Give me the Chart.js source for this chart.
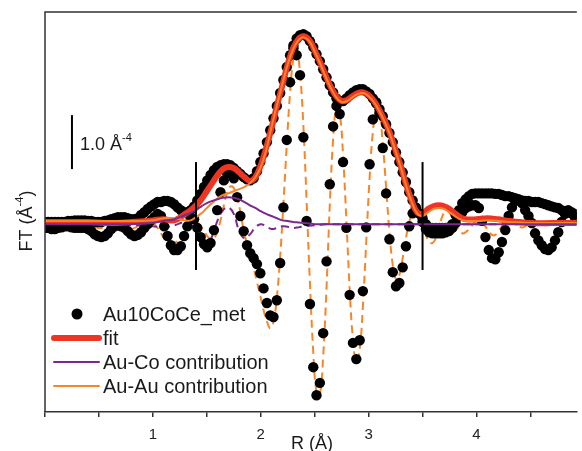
<!DOCTYPE html>
<html lang="en">
<head>
  <meta charset="UTF-8">
  <title>FT magnitude and imaginary part - Au10CoCe_met</title>
  <script src="https://cdn.jsdelivr.net/npm/chart.js"></script>
  <style>
    html, body { margin: 0; padding: 0; background: #fff; }
    #chart { display: block; }
  </style>
</head>
<body>
  <canvas id="chart" width="582" height="451"></canvas>

  <script>
    // R grid of the measured transform (Å)
    const rGrid = [
      0, 0.031, 0.061, 0.092, 0.123, 0.154, 0.184, 0.215, 0.246, 0.276,
      0.307, 0.338, 0.368, 0.399, 0.430, 0.461, 0.491, 0.522, 0.553, 0.583,
      0.614, 0.645, 0.675, 0.706, 0.737, 0.768, 0.798, 0.829, 0.860, 0.890,
      0.921, 0.952, 0.982, 1.013, 1.044, 1.075, 1.105, 1.136, 1.167, 1.197,
      1.228, 1.259, 1.289, 1.320, 1.351, 1.382, 1.412, 1.443, 1.474, 1.504,
      1.535, 1.566, 1.596, 1.627, 1.658, 1.689, 1.719, 1.750, 1.781, 1.811,
      1.842, 1.873, 1.903, 1.934, 1.965, 1.996, 2.026, 2.057, 2.088, 2.118,
      2.149, 2.180, 2.210, 2.241, 2.272, 2.303, 2.333, 2.364, 2.395, 2.425,
      2.456, 2.487, 2.517, 2.548, 2.579, 2.610, 2.640, 2.671, 2.702, 2.732,
      2.763, 2.794, 2.824, 2.855, 2.886, 2.917, 2.947, 2.978, 3.009, 3.039,
      3.070, 3.101, 3.131, 3.162, 3.193, 3.224, 3.254, 3.285, 3.316, 3.346,
      3.377, 3.408, 3.438, 3.469, 3.500, 3.531, 3.561, 3.592, 3.623, 3.653,
      3.684, 3.715, 3.745, 3.776, 3.807, 3.838, 3.868, 3.899, 3.930, 3.960,
      3.991, 4.022, 4.052, 4.083, 4.114, 4.144, 4.175, 4.206, 4.236, 4.267,
      4.298, 4.329, 4.359, 4.390, 4.421, 4.451, 4.482, 4.513, 4.543, 4.574,
      4.605, 4.636, 4.666, 4.697, 4.728, 4.758, 4.789, 4.820, 4.850, 4.881,
      4.912
    ];

    // Au10CoCe_met data, magnitude
    const dataMag = [
      0.04, 0.04, 0.04, 0.04, 0.04, 0.04, 0.04, 0.06, 0.06, 0.07,
      0.07, 0.07, 0.07, 0.06, 0.06, 0.04, 0.04, 0.04, 0.06, 0.07,
      0.09, 0.11, 0.13, 0.13, 0.13, 0.11, 0.09, 0.09, 0.11, 0.17,
      0.22, 0.28, 0.33, 0.37, 0.41, 0.41, 0.43, 0.43, 0.41, 0.37,
      0.31, 0.26, 0.22, 0.22, 0.26, 0.33, 0.44, 0.56, 0.69, 0.81,
      0.91, 1.00, 1.06, 1.09, 1.11, 1.11, 1.09, 1.04, 0.98, 0.93,
      0.87, 0.83, 0.81, 0.85, 0.98, 1.15, 1.31, 1.52, 1.74, 1.96,
      2.19, 2.43, 2.67, 2.91, 3.13, 3.31, 3.44, 3.50, 3.52, 3.48,
      3.39, 3.28, 3.15, 3.02, 2.87, 2.72, 2.57, 2.44, 2.33, 2.28,
      2.28, 2.33, 2.39, 2.44, 2.48, 2.50, 2.50, 2.46, 2.41, 2.33,
      2.24, 2.13, 2.00, 1.85, 1.69, 1.52, 1.33, 1.15, 0.96, 0.78,
      0.59, 0.44, 0.31, 0.20, 0.11, 0.00, -0.06, -0.07, -0.07, -0.07,
      -0.07, -0.07, -0.06, 0.00, 0.17, 0.26, 0.39, 0.46, 0.52, 0.56,
      0.57, 0.57, 0.57, 0.57, 0.57, 0.57, 0.56, 0.56, 0.54, 0.52,
      0.52, 0.50, 0.48, 0.46, 0.44, 0.43, 0.43, 0.41, 0.41, 0.41,
      0.39, 0.37, 0.35, 0.33, 0.31, 0.30, 0.26, 0.24, 0.22, 0.20,
      0.19
    ];

    // Au10CoCe_met data, imaginary part
    const dataIm = [
      -0.07, -0.07, -0.09, -0.09, -0.07, -0.06, -0.04, -0.04, -0.06, -0.07,
      -0.07, -0.07, -0.07, -0.09, -0.13, -0.19, -0.22, -0.24, -0.22, -0.17,
      -0.09, -0.04, -0.02, -0.04, -0.07, -0.13, -0.19, -0.22, -0.20, -0.15,
      -0.07, 0.00, 0.07, 0.13, 0.19, 0.15, -0.04, -0.22, -0.39, -0.48,
      -0.48, -0.41, -0.22, -0.04, 0.11, 0.09, -0.07, -0.24, -0.37, -0.43,
      -0.35, -0.11, 0.26, 0.59, 0.81, 0.94, 0.96, 0.85, 0.50, 0.15,
      -0.13, -0.39, -0.54, -0.63, -0.74, -0.91, -1.19, -1.46, -1.69, -1.72,
      -1.41, -0.72, 0.31, 1.56, 2.63, 3.26, 3.13, 2.76, 1.61, 0.06,
      -1.48, -2.65, -3.17, -2.94, -2.02, -0.69, 0.74, 1.81, 2.19, 2.04,
      1.15, -0.07, -1.31, -2.20, -2.50, -2.15, -1.24, -0.06, 1.11, 1.94,
      2.26, 2.06, 1.41, 0.57, -0.28, -0.89, -1.15, -1.09, -0.80, -0.41,
      -0.04, 0.20, 0.28, 0.20, 0.04, -0.09, -0.15, -0.17, -0.17, -0.17,
      -0.17, -0.15, -0.13, -0.07, 0.02, 0.15, 0.22, 0.30, 0.33, 0.35,
      0.35, 0.30, 0.06, -0.24, -0.48, -0.63, -0.65, -0.52, -0.33, -0.11,
      0.15, 0.31, 0.43, 0.44, 0.39, 0.26, 0.15, 0.02, -0.17, -0.30,
      -0.39, -0.46, -0.48, -0.43, -0.30, -0.15, 0.04, 0.19, 0.26, 0.22,
      0.13
    ];

    // Au-Au contribution, imaginary part (dashed), same R grid
    const auauIm = [
      -0.02, -0.02, -0.02, -0.02, 0, 0, 0, -0.02, -0.04, -0.04,
      -0.02, 0, 0.02, 0.02, 0, -0.04, -0.07, -0.07, -0.06, -0.02,
      0.02, 0.04, 0.04, 0, -0.04, -0.07, -0.09, -0.07, -0.04, 0.02,
      0.06, 0.07, 0.06, 0, -0.07, -0.17, -0.26, -0.31, -0.35, -0.35,
      -0.31, -0.24, -0.15, -0.06, 0.02, 0.06, 0.04, -0.04, -0.13, -0.22,
      -0.28, -0.26, -0.15, 0.07, 0.35, 0.59, 0.70, 0.67, 0.50, 0.22,
      -0.11, -0.37, -0.59, -0.81, -1.07, -1.33, -1.59, -1.80, -1.93, -1.81,
      -1.37, -0.61, 0.37, 1.46, 2.44, 3.07, 3.22, 2.81, 1.83, 0.44,
      -1.09, -2.37, -3.11, -3.15, -2.44, -1.17, 0.35, 1.57, 2.17, 2.06,
      1.28, 0.07, -1.19, -2.15, -2.56, -2.33, -1.52, -0.33, 0.85, 1.70,
      2.11, 2.04, 1.50, 0.69, -0.15, -0.76, -1.02, -0.94, -0.63, -0.26,
      0.04, 0.22, 0.24, 0.15, -0.02, -0.20, -0.33, -0.35, -0.26, -0.06,
      0.15, 0.24, 0.22, 0.13, 0, -0.11, -0.17, -0.15, -0.09, -0.02,
      0.04, 0.06, 0.04, -0.04, -0.13, -0.20, -0.20, -0.13, -0.04, 0.04,
      0.06, 0.04, 0, -0.04, -0.06, -0.04, 0, 0.02, 0.02, 0,
      -0.02, -0.02, -0.02, 0, 0, 0, 0, 0, 0, 0,
      0
    ];

    // R grid of the fitted curves (Å)
    const compR = [
      0, 0.2, 0.4, 0.6, 0.8, 1.0, 1.1, 1.2, 1.3,
      1.35, 1.4, 1.45, 1.5, 1.55, 1.6, 1.65, 1.7, 1.75, 1.8,
      1.85, 1.9, 1.95, 2.0, 2.05, 2.1, 2.15, 2.2, 2.25, 2.3,
      2.35, 2.4, 2.45, 2.5, 2.55, 2.6, 2.65, 2.7, 2.75, 2.8,
      2.85, 2.9, 2.95, 3.0, 3.05, 3.1, 3.15, 3.2, 3.25, 3.3,
      3.35, 3.4, 3.45, 3.5, 3.55, 3.6, 3.65, 3.7, 3.75, 3.8,
      3.85, 3.9,
      4.0, 4.1, 4.2, 4.3, 4.4, 4.5, 4.7, 4.93
    ];

    const fitMag = [
      0.04, 0.04, 0.04, 0.02, 0.04, 0.07, 0.09, 0.07, 0.19,
      0.26, 0.35, 0.46, 0.61, 0.76, 0.91, 1.02, 1.06, 1.04, 0.96,
      0.87, 0.80, 0.87, 1.09, 1.41, 1.78, 2.19, 2.57, 2.96, 3.26,
      3.43, 3.48, 3.41, 3.22, 3.00, 2.76, 2.54, 2.37, 2.28, 2.30,
      2.37, 2.43, 2.44, 2.39, 2.28, 2.11, 1.91, 1.67, 1.37, 1.06,
      0.72, 0.43, 0.22, 0.19, 0.28, 0.33, 0.35, 0.33, 0.28, 0.20,
      0.13, 0.09,
      0.09, 0.11, 0.09, 0.06, 0.04, 0.02, 0.02, 0.02
    ];

    const auauMag = [
      0.06, 0.06, 0.06, 0.06, 0.06, 0.07, 0.11, 0.11, 0.07,
      0.07, 0.13, 0.20, 0.30, 0.39, 0.48, 0.54, 0.57, 0.61, 0.65,
      0.69, 0.76, 0.87, 1.06, 1.37, 1.80, 2.20, 2.59, 2.96, 3.24,
      3.41, 3.46, 3.39, 3.20, 2.98, 2.74, 2.52, 2.35, 2.26, 2.28,
      2.35, 2.41, 2.43, 2.37, 2.26, 2.09, 1.89, 1.65, 1.35, 1.04,
      0.70, 0.41, 0.20, 0.15, 0.22, 0.28, 0.30, 0.28, 0.22, 0.15,
      0.09, 0.06,
      0.06, 0.07, 0.06, 0.04, 0.03, 0.02, 0.02, 0.02
    ];

    const aucoMag = [
      0, 0, 0, 0, 0, 0.02, 0.06, 0.09, 0.17,
      0.21, 0.26, 0.33, 0.39, 0.43, 0.46, 0.49, 0.50, 0.49, 0.46,
      0.41, 0.35, 0.30, 0.24, 0.19, 0.15, 0.11, 0.07, 0.06, 0.04,
      0.03, 0.02, 0.01, 0, 0, 0, 0, 0, 0, 0,
      0, 0, 0, 0, 0, 0, 0, 0, 0, 0,
      0, 0, 0, 0, 0, 0, 0, 0, 0, 0,
      0, 0,
      0, 0, 0, 0, 0, 0, 0, 0
    ];

    const aucoIm = [
      -0.02, -0.02, -0.02, -0.02, -0.02, -0.04, -0.06, -0.02, 0.04,
      0, -0.13, -0.30, -0.39, -0.22, 0.07, 0.26, 0.31, 0.19, -0.13,
      -0.26, -0.19, -0.06, 0, -0.04, -0.09, -0.07, -0.04, -0.05, -0.07,
      -0.06, -0.04, -0.03, -0.02, -0.01, 0, 0, 0, 0, 0,
      0, 0, 0, 0, 0, 0, 0, 0, 0, 0,
      0, 0, 0, 0, 0, 0, 0, 0, 0, 0,
      0, 0,
      0, 0, 0, 0, 0, 0, 0, 0
    ];

    // fitting window and scale bar
    const windowR = [1.4, 3.5];
    const windowSpan = [-0.85, 1.15];
    const scaleBarR = 0.25;
    const scaleBarSpan = [1.02, 2.02];

    const legendItems = ['Au10CoCe_met', 'fit', 'Au-Co contribution', 'Au-Au contribution'];

    const RED = '#ee3524';
    const ORANGE = '#f7862a';
    const PURPLE = '#7a2a8f';
    const FONT = '"Liberation Sans", Arial, Helvetica, sans-serif';

    const toPts = (xs, ys) => xs.map((x, i) => ({ x: x, y: ys[i] }));

    // text run with a superscript part, left to right from x
    function drawRuns(ctx, runs, x, y) {
      let cx = x;
      runs.forEach(r => {
        ctx.font = r.size + 'px ' + FONT;
        ctx.fillText(r.t, cx, y + (r.dy || 0));
        cx += ctx.measureText(r.t).width;
      });
    }
    function runsWidth(ctx, runs) {
      let w = 0;
      runs.forEach(r => {
        ctx.font = r.size + 'px ' + FONT;
        w += ctx.measureText(r.t).width;
      });
      return w;
    }

    const overlay = {
      id: 'overlay',
      afterDraw(chart) {
        const { ctx, chartArea: a } = chart;
        const xs = chart.scales.x, ys = chart.scales.y;
        ctx.save();

        // left and top frame
        ctx.strokeStyle = '#333';
        ctx.lineWidth = 1.5;
        ctx.beginPath();
        ctx.moveTo(a.left, a.bottom);
        ctx.lineTo(a.left, a.top);
        ctx.lineTo(a.right, a.top);
        ctx.stroke();

        // fit window markers
        ctx.strokeStyle = '#000';
        ctx.lineWidth = 2;
        windowR.forEach(r => {
          const px = xs.getPixelForValue(r);
          ctx.beginPath();
          ctx.moveTo(px, ys.getPixelForValue(windowSpan[0]));
          ctx.lineTo(px, ys.getPixelForValue(windowSpan[1]));
          ctx.stroke();
        });

        // scale bar
        const sbx = xs.getPixelForValue(scaleBarR);
        ctx.beginPath();
        ctx.moveTo(sbx, ys.getPixelForValue(scaleBarSpan[0]));
        ctx.lineTo(sbx, ys.getPixelForValue(scaleBarSpan[1]));
        ctx.stroke();

        ctx.fillStyle = '#1a1a1a';
        ctx.textAlign = 'left';
        ctx.textBaseline = 'alphabetic';
        drawRuns(ctx, [
          { t: '1.0 Å', size: 18 },
          { t: '-4', size: 11, dy: -9 }
        ], sbx + 8, 150);

        // x title
        ctx.font = '18px ' + FONT;
        ctx.textAlign = 'center';
        ctx.fillText('R (Å)', 312, 449);

        // y title, rotated
        const yRuns = [
          { t: 'FT (Å', size: 18 },
          { t: '-4', size: 11, dy: -9 },
          { t: ')', size: 18 }
        ];
        ctx.save();
        ctx.translate(32, 221);
        ctx.rotate(-Math.PI / 2);
        ctx.textAlign = 'left';
        drawRuns(ctx, yRuns, -runsWidth(ctx, yRuns) / 2, 0);
        ctx.restore();

        // legend
        const lx = 103, rows = [321, 345, 369, 393];
        ctx.textAlign = 'left';
        ctx.font = '20px ' + FONT;
        legendItems.forEach((label, i) => {
          ctx.fillStyle = '#1a1a1a';
          ctx.fillText(label, lx, rows[i]);
        });
        const mid = rows.map(b => b - 7);
        ctx.fillStyle = '#000';
        ctx.beginPath();
        ctx.arc(77, mid[0], 5.5, 0, Math.PI * 2);
        ctx.fill();
        [[RED, 6], [PURPLE, 2], [ORANGE, 2]].forEach((s, i) => {
          ctx.strokeStyle = s[0];
          ctx.lineWidth = s[1];
          ctx.lineCap = 'round';
          ctx.beginPath();
          ctx.moveTo(54, mid[i + 1]);
          ctx.lineTo(99, mid[i + 1]);
          ctx.stroke();
        });

        ctx.restore();
      }
    };

    const lineSet = (label, xsArr, ysArr, color, width, dash) => ({
      label: label,
      data: toPts(xsArr, ysArr),
      borderColor: color,
      backgroundColor: color,
      borderWidth: width,
      borderDash: dash || [],
      pointRadius: 0,
      tension: 0.4,
      fill: false
    });

    const dotSet = (label, ysArr) => ({
      label: label,
      data: toPts(rGrid, ysArr),
      showLine: false,
      pointRadius: 5.2,
      pointBackgroundColor: '#000',
      pointBorderWidth: 0,
      borderColor: '#000'
    });

    // first dataset is drawn on top
    new Chart(document.getElementById('chart'), {
      type: 'line',
      data: {
        datasets: [
          lineSet('Au-Co contribution', compR, aucoMag, PURPLE, 2),
          lineSet('Au-Au contribution', compR, auauMag, ORANGE, 2),
          lineSet('fit', compR, fitMag, RED, 6),
          dotSet('Au10CoCe_met', dataMag),
          dotSet('Au10CoCe_met (Im)', dataIm),
          lineSet('Au-Co contribution (Im)', compR, aucoIm, PURPLE, 2, [8, 5]),
          lineSet('Au-Au contribution (Im)', rGrid, auauIm, ORANGE, 2, [8, 5])
        ]
      },
      options: {
        responsive: false,
        animation: false,
        layout: { padding: { left: 45, top: 12, right: 0, bottom: 0 } },
        plugins: {
          legend: { display: false },
          tooltip: { enabled: false }
        },
        scales: {
          x: {
            type: 'linear',
            min: 0,
            max: 4.93,
            ticks: {
              stepSize: 0.5,
              includeBounds: false,
              autoSkip: false,
              maxRotation: 0,
              padding: 9,
              color: '#222',
              font: { family: FONT, size: 15 },
              callback: v => Number.isInteger(v) && v > 0 ? String(v) : ''
            },
            grid: { drawOnChartArea: false, tickLength: 5, color: '#333', lineWidth: 1.5 },
            border: { color: '#333', width: 1.5 },
            afterFit: s => { s.height = 39; }
          },
          y: {
            display: false,
            min: -3.48,
            max: 3.93
          }
        }
      },
      plugins: [overlay]
    });
  </script>
</body>
</html>
